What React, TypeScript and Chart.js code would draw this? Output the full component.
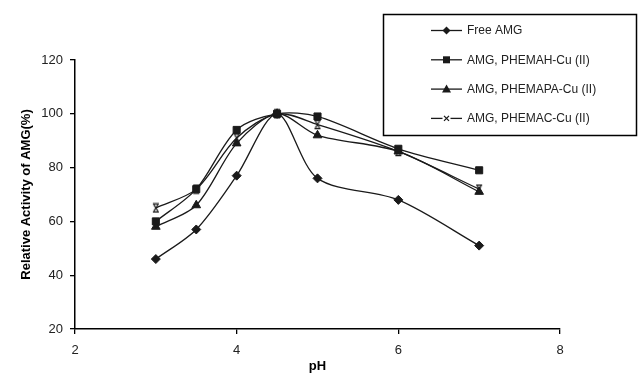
import React, { useEffect, useRef } from 'react';
import { Chart, registerables } from 'chart.js';

Chart.register(...registerables);

const phValues = [3, 3.5, 4, 4.5, 5, 6, 7];
const freeAMG = [46, 57, 77, 100, 76, 68, 51];
const phemahCu = [60, 72, 94, 100, 99, 87, 79];
const phemapaCu = [58, 66, 89, 100, 92, 86, 71];
const phemacCu = [65, 72, 91, 100, 96, 86, 72];
const seriesLabels = ['Free AMG', 'AMG, PHEMAH-Cu (II)', 'AMG, PHEMAPA-Cu (II)', 'AMG, PHEMAC-Cu (II)'];
const xTickValues = [2, 4, 6, 8];
const yTickValues = [20, 40, 60, 80, 100, 120];
const xTitle = 'pH';
const yTitle = 'Relative Activity of AMG(%)';

const FONT = '"Liberation Sans", Arial, sans-serif';
const INK = '#1a1a1a';

function makeXMarker(): HTMLCanvasElement {
  const c = document.createElement('canvas');
  c.width = 10;
  c.height = 11;
  const g = c.getContext('2d')!;
  g.strokeStyle = INK;
  g.lineWidth = 1.3;
  g.beginPath();
  g.moveTo(2, 1.5); g.lineTo(8, 1.5);
  g.moveTo(2, 9.5); g.lineTo(8, 9.5);
  g.moveTo(3, 2.5); g.lineTo(7, 8.5);
  g.moveTo(7, 2.5); g.lineTo(3, 8.5);
  g.stroke();
  return c;
}

function drawLegendMarker(ctx: CanvasRenderingContext2D, kind: number, cx: number, cy: number) {
  ctx.beginPath();
  if (kind === 0) {
    ctx.moveTo(cx, cy - 4); ctx.lineTo(cx + 4, cy); ctx.lineTo(cx, cy + 4); ctx.lineTo(cx - 4, cy); ctx.closePath(); ctx.fill();
  } else if (kind === 1) {
    ctx.rect(cx - 3.5, cy - 3.5, 7, 7); ctx.fill();
  } else if (kind === 2) {
    ctx.moveTo(cx, cy - 4.5); ctx.lineTo(cx + 4.5, cy + 3.5); ctx.lineTo(cx - 4.5, cy + 3.5); ctx.closePath(); ctx.fill();
  } else {
    ctx.fillStyle = '#fff';
    ctx.fillRect(cx - 4, cy - 4, 8, 8);
    ctx.fillStyle = INK;
    ctx.moveTo(cx - 2.5, cy - 2.5); ctx.lineTo(cx + 2.5, cy + 2.5);
    ctx.moveTo(cx + 2.5, cy - 2.5); ctx.lineTo(cx - 2.5, cy + 2.5);
    ctx.stroke();
  }
}

const legendPlugin = {
  id: 'boxLegend',
  afterDraw(chart: any) {
    const ctx = chart.ctx as CanvasRenderingContext2D;
    ctx.save();
    ctx.fillStyle = '#fff';
    ctx.fillRect(383.5, 14.5, 253, 121);
    ctx.strokeStyle = '#000';
    ctx.lineWidth = 1.5;
    ctx.strokeRect(383.5, 14.5, 253, 121);
    ctx.font = `12px ${FONT}`;
    ctx.textBaseline = 'middle';
    chart.data.datasets.forEach((ds: any, i: number) => {
      const y = 30.5 + i * 29.3;
      ctx.strokeStyle = INK;
      ctx.fillStyle = INK;
      ctx.lineWidth = 1.3;
      ctx.beginPath();
      ctx.moveTo(431, y);
      ctx.lineTo(462, y);
      ctx.stroke();
      drawLegendMarker(ctx, i, 446.5, y);
      ctx.fillStyle = '#222';
      ctx.fillText(ds.label, 467, y + 0.5);
    });
    ctx.restore();
  },
};

export default function App() {
  const canvasRef = useRef<HTMLCanvasElement | null>(null);

  useEffect(() => {
    if (!canvasRef.current) return;
    const xMarker = makeXMarker();
    const toPoints = (vals: number[]) => phValues.map((x, i) => ({ x, y: vals[i] }));
    const base = {
      borderColor: INK,
      backgroundColor: INK,
      borderWidth: 1.3,
      tension: 0.3,
      pointBorderWidth: 1,
      pointBorderColor: INK,
      pointBackgroundColor: INK,
    };
    const chart = new Chart(canvasRef.current, {
      type: 'line',
      data: {
        datasets: [
          { ...base, label: seriesLabels[0], data: toPoints(freeAMG), pointStyle: 'rectRot', pointRadius: 4.5 },
          { ...base, label: seriesLabels[1], data: toPoints(phemahCu), pointStyle: 'rect', pointRadius: 5 },
          { ...base, label: seriesLabels[2], data: toPoints(phemapaCu), pointStyle: 'triangle', pointRadius: 5 },
          { ...base, label: seriesLabels[3], data: toPoints(phemacCu), pointStyle: xMarker as any, pointRadius: 5 },
        ],
      },
      options: {
        animation: false,
        responsive: true,
        maintainAspectRatio: false,
        layout: { padding: { left: 0, right: 79, top: 60, bottom: 0 } },
        plugins: { legend: { display: false }, tooltip: { enabled: false } },
        scales: {
          x: {
            type: 'linear',
            min: xTickValues[0],
            max: xTickValues[xTickValues.length - 1],
            afterBuildTicks: (s: any) => { s.ticks = xTickValues.map((v) => ({ value: v })); },
            afterFit: (s: any) => { s.height = 46; },
            grid: { display: true, drawOnChartArea: false, drawTicks: true, tickLength: 5, color: '#000', lineWidth: 1.3 },
            border: { display: true, color: '#000', width: 1.5 },
            ticks: { color: '#222', font: { family: FONT, size: 13 }, padding: 9 },
            title: { display: true, text: xTitle, color: '#000', font: { family: FONT, size: 13, weight: 'bold' }, padding: { top: 0, bottom: 1 } },
          },
          y: {
            type: 'linear',
            min: yTickValues[0],
            max: yTickValues[yTickValues.length - 1],
            afterBuildTicks: (s: any) => { s.ticks = yTickValues.map((v) => ({ value: v })); },
            afterFit: (s: any) => { s.width = 75; },
            grid: { display: true, drawOnChartArea: false, drawTicks: true, tickLength: 5, color: '#000', lineWidth: 1.3 },
            border: { display: true, color: '#000', width: 1.5 },
            ticks: { color: '#222', font: { family: FONT, size: 13 }, padding: 7 },
            title: { display: true, text: yTitle, color: '#000', font: { family: FONT, size: 13, weight: 'bold' }, padding: { top: 19, bottom: 0 } },
          },
        },
      },
      plugins: [legendPlugin],
    });
    return () => chart.destroy();
  }, []);

  return (
    <div style={{ position: 'absolute', left: 0, top: 0, width: 639, height: 375, background: '#fff' }}>
      <canvas ref={canvasRef} />
    </div>
  );
}
